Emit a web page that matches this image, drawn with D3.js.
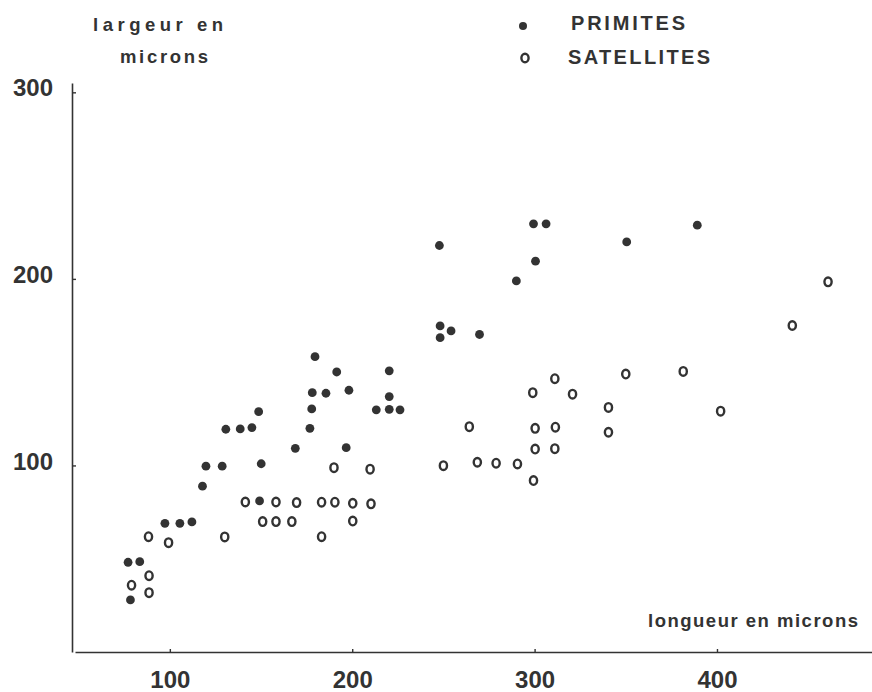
<!DOCTYPE html>
<html>
<head>
<meta charset="utf-8">
<script src="https://cdn.jsdelivr.net/npm/d3@7"></script>
<style>
  body { margin: 0; background: #fff; }
  svg { display: block; font-family: "Liberation Sans", Arial, sans-serif; }
</style>
</head>
<body>
<svg id="scatter"></svg>
<script>
/* Data Setup */
const primitesLongueur = [77.1, 83.5, 78.4, 97.3, 105.5, 112.1, 117.9, 119.8, 128.7, 130.7,
    138.6, 145, 148.7, 150.1, 149.2, 168.8, 176.8, 177.8, 178.1, 185.6,
    179.6, 191.5, 198.2, 196.7, 220.3, 220.3, 213.2, 220.3, 226.2, 247.8,
    248.2, 248.2, 254.2, 269.8, 290, 299.4, 306.3, 300.5, 350.5, 389.2];
const primitesLargeur = [48.1, 48.4, 27.9, 69.0, 69.0, 69.7, 88.9, 99.6, 99.6, 119.4,
    119.6, 120.3, 128.8, 100.9, 81.0, 109.2, 119.9, 130.3, 139.0, 138.7,
    158.3, 150.1, 140.3, 109.5, 150.7, 136.9, 129.8, 130.1, 129.8, 217.9,
    174.8, 168.5, 172.1, 170.2, 198.9, 229.5, 229.5, 209.5, 219.8, 228.8];

const satellitesLongueur = [79.0, 88.6, 88.6, 88.3, 99.3, 130.1, 141.4, 150.9, 158.2, 158.2,
    166.9, 169.5, 183.2, 190.5, 200.3, 210.3, 200.3, 183.2, 190, 209.8,
    250, 264.2, 268.6, 278.9, 290.6, 299.4, 300.3, 311.4, 300.3, 311.1,
    299, 311.1, 320.8, 340.5, 340.5, 350, 381.5, 402, 441.3, 460.9];
const satellitesLargeur = [35.8, 40.9, 31.8, 61.8, 58.6, 61.7, 80.4, 69.9, 80.4, 69.9,
    69.9, 80.1, 80.3, 80.3, 79.7, 79.4, 70.2, 61.8, 98.8, 98.0,
    99.9, 120.8, 101.7, 101.2, 100.8, 91.9, 119.9, 120.5, 108.8, 109.0,
    139.0, 146.5, 138.2, 131.1, 117.8, 149.0, 150.4, 129.1, 175.0, 198.4];

const xTicks = [100, 200, 300, 400];
const yTicks = [100, 200, 300];
const legendLabels = ["PRIMITES", "SATELLITES"];

const primites = primitesLongueur.map((d, i) => ({ x: d, y: primitesLargeur[i] }));
const satellites = satellitesLongueur.map((d, i) => ({ x: d, y: satellitesLargeur[i] }));

/* Chart dimensions */
const W = 872, H = 692;
const ink = "#333";

const svg = d3.select("#scatter")
    .attr("width", W)
    .attr("height", H);

/* Scales */
const xScale = d3.scaleLinear().domain([48, 485]).range([75, 872]);
const yScale = d3.scaleLinear().domain([0, 305]).range([652, 83]);

/* X axis */
const xAxisG = svg.append("g")
    .attr("transform", `translate(0, ${yScale(0)})`)
    .call(d3.axisBottom(xScale).tickValues(xTicks).tickSize(-3).tickSizeOuter(0).tickPadding(19));

/* Y axis */
const yAxisG = svg.append("g")
    .attr("transform", `translate(${xScale(48) - 3}, 0)`)
    .call(d3.axisLeft(yScale).tickValues(yTicks).tickSize(-4).tickSizeOuter(0).tickPadding(19));

[xAxisG, yAxisG].forEach(g => {
    g.select(".domain").attr("stroke", ink).attr("stroke-width", 1.6);
    g.selectAll(".tick line").attr("stroke", ink).attr("stroke-width", 1.4);
    g.selectAll(".tick text")
        .attr("fill", ink)
        .style("font-size", "24px")
        .style("font-weight", "bold")
        .style("font-family", "'Liberation Sans', Arial, sans-serif");
});
yAxisG.selectAll(".tick text").attr("dy", "0.15em");

/* Points: primites (filled) */
svg.selectAll(".primite")
    .data(primites)
    .join("circle")
      .attr("class", "primite")
      .attr("cx", d => xScale(d.x))
      .attr("cy", d => yScale(d.y))
      .attr("r", 4.4)
      .attr("fill", ink);

/* Points: satellites (open "o") */
svg.selectAll(".satellite")
    .data(satellites)
    .join("ellipse")
      .attr("class", "satellite")
      .attr("cx", d => xScale(d.x))
      .attr("cy", d => yScale(d.y))
      .attr("rx", 3.6)
      .attr("ry", 4.3)
      .attr("fill", "none")
      .attr("stroke", ink)
      .attr("stroke-width", 2.4);

/* Axis titles */
const titleStyle = sel => sel
    .attr("fill", ink)
    .attr("lengthAdjust", "spacing")
    .style("font-size", "18.5px")
    .style("font-weight", "bold");

svg.append("text").attr("x", 93).attr("y", 31).attr("textLength", 130)
    .call(titleStyle).text("largeur en");
svg.append("text").attr("x", 120).attr("y", 63).attr("textLength", 88)
    .call(titleStyle).text("microns");
svg.append("text").attr("x", 648).attr("y", 627).attr("textLength", 210)
    .call(titleStyle).text("longueur en microns");

/* Legend */
svg.append("circle").attr("cx", 523).attr("cy", 26).attr("r", 4).attr("fill", ink);
svg.append("ellipse").attr("cx", 525).attr("cy", 58).attr("rx", 3.6).attr("ry", 4.3)
    .attr("fill", "none").attr("stroke", ink).attr("stroke-width", 2.4);

svg.selectAll(".legend-label")
    .data(legendLabels)
    .join("text")
      .attr("class", "legend-label")
      .attr("x", (d, i) => i === 0 ? 571 : 568)
      .attr("y", (d, i) => i === 0 ? 30 : 64)
      .attr("textLength", (d, i) => i === 0 ? 114 : 142)
      .attr("lengthAdjust", "spacing")
      .attr("fill", ink)
      .style("font-size", "20px")
      .style("font-weight", "bold")
      .text(d => d);
</script>
</body>
</html>
